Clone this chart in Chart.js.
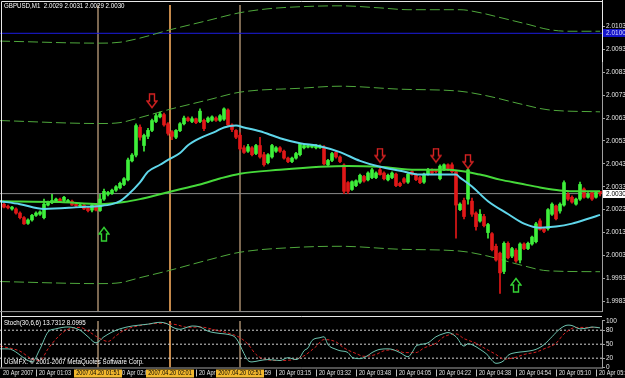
<!DOCTYPE html>
<html><head><meta charset="utf-8">
<script src="https://cdn.jsdelivr.net/npm/chart.js@4/dist/chart.umd.min.js"></script>
<style>
html,body{margin:0;padding:0;background:#000;overflow:hidden;width:625px;height:378px}
#wrap{position:relative;width:625px;height:378px;background:#000}
canvas{position:absolute;left:0}
#c1{top:0}#c2{top:316px}
</style></head><body>
<div id="wrap"><canvas id="c1" width="625" height="316"></canvas><canvas id="c2" width="625" height="62"></canvas></div>
<script>
// ---------- DATA ----------
const opens=[2.00254,2.00245,2.00233,2.00233,2.00215,2.00195,2.00170,2.00185,2.00205,2.00210,
2.00195,2.00250,2.00260,2.00267,2.00276,2.00270,2.00263,2.00267,2.00254,2.00246,
2.00250,2.00237,2.00228,2.00254,2.00226,2.00276,2.00297,2.00300,2.00315,2.00325,
2.00340,2.00360,2.00443,2.00468,2.00590,2.00510,2.00550,2.00576,2.00615,2.00635,
2.00645,2.00605,2.00570,2.00546,2.00575,2.00605,2.00630,2.00615,2.00627,2.00615,
2.00620,2.00615,2.00620,2.00630,2.00620,2.00625,2.00665,2.00600,2.00576,2.00555,
2.00500,2.00485,2.00500,2.00475,2.00510,2.00470,2.00435,2.00460,2.00485,2.00500,
2.00485,2.00455,2.00440,2.00455,2.00470,2.00500,2.00503,2.00503,2.00500,2.00500,
2.00503,2.00426,2.00445,2.00480,2.00460,2.00425,2.00348,2.00318,2.00335,2.00350,
2.00375,2.00360,2.00370,2.00370,2.00404,2.00390,2.00360,2.00370,2.00385,2.00345,
2.00365,2.00350,2.00396,2.00383,2.00370,2.00350,2.00385,2.00404,2.00400,2.00365,
2.00404,2.00426,2.00426,2.00396,2.00230,2.00270,2.00276,2.00267,2.00215,2.00180,
2.00200,2.00130,2.00125,2.00070,2.00040,1.99960,2.00083,2.00027,2.00053,2.00010,
2.00080,2.00060,2.00080,2.00090,2.00181,2.00147,2.00147,2.00210,2.00246,2.00224,
2.00250,2.00297,2.00284,2.00254,2.00276,2.00320,2.00284,2.00305,2.00284,2.00310];
const highs=[2.00258,2.00250,2.00245,2.00238,2.00220,2.00200,2.00190,2.00210,2.00220,2.00225,
2.00276,2.00267,2.00297,2.00280,2.00280,2.00288,2.00275,2.00272,2.00258,2.00254,
2.00254,2.00240,2.00254,2.00258,2.00297,2.00320,2.00310,2.00320,2.00335,2.00350,
2.00370,2.00455,2.00475,2.00605,2.00600,2.00560,2.00585,2.00625,2.00648,2.00656,
2.00652,2.00610,2.00575,2.00580,2.00610,2.00638,2.00635,2.00635,2.00630,2.00670,
2.00625,2.00635,2.00640,2.00635,2.00645,2.00675,2.00670,2.00605,2.00580,2.00565,
2.00510,2.00515,2.00505,2.00515,2.00546,2.00480,2.00475,2.00515,2.00505,2.00505,
2.00490,2.00460,2.00460,2.00480,2.00520,2.00515,2.00515,2.00515,2.00515,2.00513,
2.00510,2.00450,2.00480,2.00485,2.00465,2.00430,2.00352,2.00356,2.00360,2.00385,
2.00380,2.00395,2.00410,2.00395,2.00410,2.00395,2.00385,2.00395,2.00390,2.00350,
2.00370,2.00390,2.00400,2.00388,2.00375,2.00390,2.00410,2.00408,2.00404,2.00426,
2.00430,2.00430,2.00434,2.00400,2.00260,2.00280,2.00413,2.00280,2.00220,2.00230,
2.00210,2.00170,2.00130,2.00080,2.00045,2.00090,2.00090,2.00065,2.00060,2.00085,
2.00085,2.00088,2.00115,2.00175,2.00190,2.00150,2.00235,2.00260,2.00250,2.00260,
2.00356,2.00305,2.00290,2.00280,2.00350,2.00325,2.00305,2.00310,2.00310,2.00310];
const lows=[2.00237,2.00233,2.00228,2.00210,2.00190,2.00165,2.00165,2.00180,2.00200,2.00205,
2.00190,2.00246,2.00256,2.00263,2.00263,2.00265,2.00260,2.00248,2.00242,2.00242,
2.00230,2.00220,2.00220,2.00224,2.00222,2.00270,2.00290,2.00297,2.00310,2.00320,
2.00335,2.00355,2.00438,2.00460,2.00533,2.00485,2.00540,2.00570,2.00610,2.00630,
2.00595,2.00555,2.00535,2.00540,2.00570,2.00600,2.00615,2.00610,2.00605,2.00610,
2.00575,2.00610,2.00615,2.00615,2.00615,2.00620,2.00595,2.00570,2.00540,2.00490,
2.00475,2.00480,2.00465,2.00470,2.00455,2.00420,2.00430,2.00455,2.00480,2.00480,
2.00450,2.00435,2.00435,2.00450,2.00465,2.00495,2.00500,2.00500,2.00495,2.00497,
2.00425,2.00420,2.00440,2.00455,2.00435,2.00300,2.00300,2.00314,2.00330,2.00345,
2.00350,2.00355,2.00365,2.00365,2.00380,2.00360,2.00355,2.00365,2.00330,2.00330,
2.00345,2.00345,2.00380,2.00357,2.00343,2.00345,2.00380,2.00385,2.00390,2.00360,
2.00400,2.00400,2.00390,2.00105,2.00225,2.00190,2.00254,2.00200,2.00140,2.00175,
2.00155,2.00105,2.00050,2.00005,1.99864,1.99950,2.00015,2.00020,2.00000,1.99997,
2.00055,2.00055,2.00075,2.00085,2.00140,2.00130,2.00140,2.00205,2.00185,2.00215,
2.00245,2.00270,2.00258,2.00250,2.00270,2.00280,2.00280,2.00270,2.00280,2.00290];
const closes=[2.00241,2.00238,2.00241,2.00215,2.00195,2.00168,2.00185,2.00205,2.00215,2.00220,
2.00254,2.00262,2.00270,2.00276,2.00267,2.00284,2.00270,2.00250,2.00246,2.00250,
2.00233,2.00226,2.00250,2.00228,2.00276,2.00310,2.00305,2.00315,2.00330,2.00345,
2.00365,2.00447,2.00468,2.00597,2.00546,2.00554,2.00576,2.00619,2.00640,2.00648,
2.00600,2.00563,2.00550,2.00576,2.00605,2.00630,2.00619,2.00627,2.00610,2.00660,
2.00584,2.00630,2.00635,2.00620,2.00640,2.00670,2.00600,2.00580,2.00546,2.00495,
2.00480,2.00505,2.00470,2.00510,2.00460,2.00426,2.00470,2.00510,2.00500,2.00485,
2.00455,2.00440,2.00455,2.00475,2.00515,2.00510,2.00510,2.00511,2.00510,2.00507,
2.00430,2.00445,2.00475,2.00460,2.00440,2.00310,2.00310,2.00352,2.00356,2.00380,
2.00355,2.00390,2.00404,2.00390,2.00383,2.00365,2.00380,2.00390,2.00335,2.00335,
2.00350,2.00385,2.00383,2.00361,2.00348,2.00385,2.00404,2.00390,2.00396,2.00420,
2.00426,2.00404,2.00396,2.00250,2.00254,2.00200,2.00404,2.00210,2.00156,2.00210,
2.00160,2.00165,2.00055,2.00010,1.99954,2.00083,2.00020,2.00060,2.00006,2.00080,
2.00060,2.00083,2.00110,2.00168,2.00143,2.00135,2.00230,2.00254,2.00190,2.00254,
2.00348,2.00276,2.00263,2.00276,2.00340,2.00284,2.00297,2.00276,2.00305,2.00300];

// fast MA (cyan) read at sample bars
const maFastX=[-1,4,10,19,24,27,29,31,34,36,39,41,44,46,49,53,55,58,60,64,69,74,79,84,89,94,99,104,109,113,114,117,121,126,130,134,138,142,146,149];
const maFastY=[2.00267,2.00254,2.00233,2.00241,2.00246,2.00254,2.00267,2.00295,2.00349,2.00396,2.00426,2.00447,2.00477,2.00511,2.00542,2.00572,2.00589,2.00597,2.00589,2.00572,2.00542,2.00520,2.00507,2.00481,2.00443,2.00417,2.00400,2.00383,2.00383,2.00383,2.00370,2.00331,2.00267,2.00211,2.00169,2.00151,2.00156,2.00169,2.00190,2.00207];
// slow MA (green)
const maSlowX=[-1,14,24,30,34,39,44,49,54,59,69,79,86,94,103,111,119,124,129,134,139,144,149];
const maSlowY=[2.00267,2.00263,2.00254,2.00263,2.00276,2.00297,2.00319,2.00340,2.00366,2.00387,2.00404,2.00417,2.00421,2.00417,2.00404,2.00404,2.00383,2.00361,2.00344,2.00327,2.00314,2.00310,2.00310];
// envelope bands (dashed)
const bandTopX=[-1,24,29,34,41,51,59,66,74,84,94,101,114,119,124,131,136,141,149];
const bandTopY=[2.00966,2.00957,2.00961,2.00979,2.01013,2.01056,2.01090,2.01107,2.01116,2.01120,2.01111,2.01103,2.01103,2.01090,2.01069,2.01039,2.01017,2.01009,2.01009];
const bandMidX=[-1,24,29,34,41,51,59,74,84,99,114,121,129,136,149];
const bandMidY=[2.00619,2.00606,2.00610,2.00632,2.00666,2.00709,2.00743,2.00760,2.00769,2.00756,2.00747,2.00726,2.00692,2.00666,2.00657];
const bandLowX=[-1,24,29,34,41,51,59,74,84,99,114,121,129,136,149];
const bandLowY=[1.99916,1.99907,1.99911,1.99933,1.99963,2.00010,2.00044,2.00066,2.00070,2.00057,2.00049,2.00027,1.99989,1.99963,1.99959];

// signal arrows
const downArrowX=[37,94,108,116];
const downArrowY=[2.00704,2.00466,2.00466,2.00439];
const upArrowX=[25,128];
const upArrowY=[2.00124,1.99901];

// horizontal / vertical objects
const hLineBlue=2.0100;
const hLineCurrent=2.0030;
const vLineX=[23.5,41.5,59];
const vLineText=['2007.04.20 01:51','2007.04.20 02:01','2007.04.20 02:51'];

// stochastic
const stochMainX=[-1,1,6,7,9,11,13,16,19,21,23,25,27,29,32,36,39,41,42,44,46,47,49,51,54,56,58,60,61,62,64,66,69,71,73,74,75,76,77,79,80,81,83,84,86,87,89,91,92,94,96,97,99,101,102,103,104,106,108,110,111,113,115,116,117,119,121,122,123,125,126,128,130,133,135,137,139,141,142,144,146,147,149];
const stochMainY=[40,40,15,12,40,76,83,87,80,66,53,66,76,83,89,93,97,93,87,82,87,89,87,78,73,71,63,30,15,12,15,17,15,21,17,22,36,42,58,64,66,49,39,36,32,22,19,26,32,39,40,39,32,23,32,46,49,53,66,73,75,66,46,51,49,39,26,15,9,15,26,32,34,39,49,66,83,91,90,83,85,87,85];
const stochSigX=[-1,4,7,9,11,14,16,19,21,24,26,28,30,34,39,43,46,49,53,56,59,61,63,65,69,73,75,78,80,83,85,88,90,93,95,98,100,103,105,108,110,113,115,118,120,123,125,128,130,133,135,138,140,143,145,149];
const stochSigY=[46,35,18,15,40,70,82,86,78,62,56,68,80,90,95,92,86,87,80,74,64,50,28,18,15,18,25,45,60,55,42,30,24,28,36,38,32,32,42,52,66,72,62,52,42,28,18,22,28,33,40,52,72,86,86,86];
const stochLevels=[20,50,80];

// axis ticks / labels
const priceTicks=[1.9983,1.9993,2.0003,2.0013,2.0023,2.0033,2.0043,2.0053,2.0063,2.0073,2.0083,2.0093,2.0103];
const stochTicks=[0,20,50,80,100];
const timeTickX=[-1,8,18,28,38,48,58,68,78,88,98,108,118,128,138,148];
const timeTickLabels=['20 Apr 2007','20 Apr 01:03','20 Apr 01:31','20 Apr 02:08','20 Apr 02:25','20 Apr 02:42','20 Apr 02:59','20 Apr 03:15','20 Apr 03:32','20 Apr 03:48','20 Apr 04:05','20 Apr 04:22','20 Apr 04:38','20 Apr 04:54','20 Apr 05:10','20 Apr 05:26'];
const titleText='GBPUSD,M1  2.0029 2.0031 2.0029 2.0030';
const stochText='Stoch(30,6,6) 13.7312 8.0995';
const copyText='UGMFX: \u00A9 2001-2007 MetaQuotes Software Corp.';

// ---------- STYLE / SETUP ----------
const X_MIN=-1, X_MAX=149.5, P_MIN=1.99787, P_MAX=2.01124;
const UP='#3ef03a', DN='#e01818';
const FONT='"Liberation Sans", Arial, sans-serif';
const idx=opens.map((_,i)=>i);

function lineDS(xs,ys,color,width,dash,order,smooth){
  return {type:'line',data:xs.map((x,k)=>({x:x,y:ys[k]})),borderColor:color,borderWidth:width,borderDash:dash||[],
    pointRadius:0,pointHoverRadius:0,pointBorderWidth:0,fill:false,order:order,tension:0,cubicInterpolationMode:smooth?'monotone':'default'};
}
function arrowImg(color,down){
  const c=document.createElement('canvas');c.width=12;c.height=16;
  const g=c.getContext('2d');g.strokeStyle=color;g.lineWidth=1.4;
  const pts=down?[[3.5,1],[8.5,1],[8.5,8],[11,8],[6,14.5],[1,8],[3.5,8]]:[[3.5,15],[8.5,15],[8.5,8],[11,8],[6,1.5],[1,8],[3.5,8]];
  g.beginPath();pts.forEach((p,k)=>k?g.lineTo(p[0],p[1]):g.moveTo(p[0],p[1]));g.closePath();g.stroke();
  return c;
}
function condensedText(ctx,txt,x,y,sx){ctx.save();ctx.translate(x,y);ctx.scale(sx,1);ctx.fillText(txt,0,0);ctx.restore();}
const vColors=['#f8cfa2','#c4884a','#f8cfa2'], vWidths=[1,2,1];

const mainDatasets=[];
vLineX.forEach((v,k)=>mainDatasets.push(lineDS([v,v],[P_MIN,P_MAX],vColors[k],vWidths[k],null,30,false)));
mainDatasets.push(lineDS([X_MIN,X_MAX],[hLineBlue,hLineBlue],'#1c1ce0',1,null,29,false));
mainDatasets.push(lineDS([X_MIN,X_MAX],[hLineCurrent,hLineCurrent],'#8a8a8a',1,null,29,false));
mainDatasets.push(lineDS(bandTopX,bandTopY,'#4fa83c',1,[10,4],20,true));
mainDatasets.push(lineDS(bandMidX,bandMidY,'#4fa83c',1,[10,4],20,true));
mainDatasets.push(lineDS(bandLowX,bandLowY,'#4fa83c',1,[10,4],20,true));
mainDatasets.push({type:'bar',data:idx.map(i=>({x:i,y:[lows[i],highs[i]]})),backgroundColor:idx.map(i=>closes[i]>=opens[i]?UP:DN),
  barThickness:1,grouped:false,borderWidth:0,order:11});
mainDatasets.push({type:'bar',data:idx.map(i=>({x:i,y:[opens[i],closes[i]]})),backgroundColor:idx.map(i=>closes[i]>=opens[i]?UP:DN),
  barThickness:3,grouped:false,borderWidth:0,minBarLength:1,order:10});
mainDatasets.push(lineDS(maSlowX,maSlowY,'#46d93a',2,null,4,true));
mainDatasets.push(lineDS(maFastX,maFastY,'#5fd6ea',2,null,3,true));
mainDatasets.push({type:'scatter',data:downArrowX.map((x,k)=>({x:x,y:downArrowY[k]})),pointStyle:arrowImg('#d42222',true),pointRadius:6,order:1});
mainDatasets.push({type:'scatter',data:upArrowX.map((x,k)=>({x:x,y:upArrowY[k]})),pointStyle:arrowImg('#34d434',false),pointRadius:6,order:1});

const mainOverlay={id:'mainOverlay',afterDraw(chart){
  const ctx=chart.ctx,a=chart.chartArea,y=chart.scales.y;
  ctx.save();
  ctx.strokeStyle='#e8e8e8';ctx.lineWidth=1;
  ctx.beginPath();ctx.moveTo(1.5,316);ctx.lineTo(1.5,1.5);ctx.lineTo(a.right,1.5);ctx.stroke();
  ctx.beginPath();ctx.moveTo(a.right+0.5,0);ctx.lineTo(a.right+0.5,62);ctx.stroke();
  ctx.strokeStyle='#9a9a9a';ctx.beginPath();ctx.moveTo(0,a.bottom+0.5);ctx.lineTo(a.right,a.bottom+0.5);ctx.stroke();
  ctx.font='6.5px '+FONT;ctx.textBaseline='middle';ctx.textAlign='left';
  ctx.fillStyle='#ffffff';condensedText(ctx,titleText,4,6.5,0.95);
  const marks=[[hLineBlue,'#1414c8','#d8d8ff'],[hLineCurrent,'#ffffff','#000000']];
  marks.forEach(m=>{const py=Math.round(y.getPixelForValue(m[0]));
    ctx.fillStyle=m[1];ctx.fillRect(a.right+1,py-4,22,8);
    ctx.fillStyle=m[2];ctx.fillText(m[0].toFixed(4),a.right+4,py+0.5);});
  ctx.restore();
}};

new Chart(document.getElementById('c1'),{
  type:'bar',
  data:{datasets:mainDatasets},
  options:{responsive:false,animation:false,devicePixelRatio:1,events:[],
    layout:{autoPadding:false,padding:{left:0,right:0,top:2,bottom:2}},
    plugins:{legend:{display:false},tooltip:{enabled:false}},
    scales:{
      x:{type:'linear',min:X_MIN,max:X_MAX,display:false,offset:false},
      y:{type:'linear',position:'right',min:P_MIN,max:P_MAX,beginAtZero:false,
        afterFit(s){s.width=23;},
        afterBuildTicks(s){s.ticks=priceTicks.map(v=>({value:v}));},
        ticks:{color:'#e6e6e6',font:{family:FONT,size:6.5},padding:1,autoSkip:false,maxRotation:0,callback:v=>Number(v).toFixed(4)},
        grid:{drawOnChartArea:false,drawTicks:true,tickLength:3,color:'#a0a0a0'},
        border:{display:true,color:'#a0a0a0'}}
    }},
  plugins:[mainOverlay]
});

// ---------- STOCH PANEL ----------
const subDatasets=[];
vLineX.forEach((v,k)=>subDatasets.push(lineDS([v,v],[0,100],vColors[k],vWidths[k],null,30,false)));
stochLevels.forEach(l=>subDatasets.push(lineDS([X_MIN,X_MAX],[l,l],'#d0d0d0',1,[2,2],25,false)));
subDatasets.push(lineDS(stochSigX,stochSigY,'#d42020',1,[3,2],5,true));
subDatasets.push(lineDS(stochMainX,stochMainY,'#6cc2ae',1,null,4,true));

const subOverlay={id:'subOverlay',afterDraw(chart){
  const ctx=chart.ctx,a=chart.chartArea,x=chart.scales.x;
  ctx.save();
  ctx.strokeStyle='#e8e8e8';ctx.lineWidth=1;
  ctx.beginPath();ctx.moveTo(1.5,0.5);ctx.lineTo(a.right,0.5);ctx.moveTo(1.5,0);ctx.lineTo(1.5,a.bottom);ctx.stroke();
  ctx.strokeStyle='#a0a0a0';ctx.beginPath();ctx.moveTo(0,a.bottom+0.5);ctx.lineTo(a.right+1,a.bottom+0.5);ctx.stroke();
  ctx.font='6.5px '+FONT;ctx.textBaseline='middle';ctx.textAlign='left';ctx.fillStyle='#ffffff';
  condensedText(ctx,stochText,4,7,0.95);
  condensedText(ctx,copyText,4,a.bottom-5.5,0.95);
  const ly=a.bottom+6, SX=0.86;
  ctx.strokeStyle='#c0c0c0';ctx.fillStyle='#e6e6e6';
  timeTickX.forEach((v,k)=>{const px=Math.round(x.getPixelForValue(v))+0.5;
    if(k>0){ctx.beginPath();ctx.moveTo(px,a.bottom+2);ctx.lineTo(px,a.bottom+9);ctx.stroke();}
    condensedText(ctx,timeTickLabels[k],px+2.5,ly,SX);});
  vLineX.forEach((v,k)=>{const px=x.getPixelForValue(v);const w=ctx.measureText(vLineText[k]).width*SX;
    ctx.fillStyle='#f2b82e';ctx.fillRect(Math.round(px-w/2-2),a.bottom+2,Math.round(w+4),8);
    ctx.fillStyle='#000000';condensedText(ctx,vLineText[k],px-w/2,ly,SX);});
  ctx.restore();
}};

new Chart(document.getElementById('c2'),{
  type:'line',
  data:{datasets:subDatasets},
  options:{responsive:false,animation:false,devicePixelRatio:1,events:[],
    layout:{autoPadding:false,padding:{left:0,right:0,top:2.5,bottom:10.5}},
    plugins:{legend:{display:false},tooltip:{enabled:false}},
    scales:{
      x:{type:'linear',min:X_MIN,max:X_MAX,display:false,offset:false},
      y:{type:'linear',position:'right',min:0,max:100,
        afterFit(s){s.width=23;},
        afterBuildTicks(s){s.ticks=stochTicks.map(v=>({value:v}));},
        ticks:{color:'#e6e6e6',font:{family:FONT,size:6.5},padding:1,autoSkip:false,maxRotation:0},
        grid:{drawOnChartArea:false,drawTicks:true,tickLength:3,color:'#a0a0a0'},
        border:{display:true,color:'#a0a0a0'}}
    }},
  plugins:[subOverlay]
});
</script>
</body></html>
